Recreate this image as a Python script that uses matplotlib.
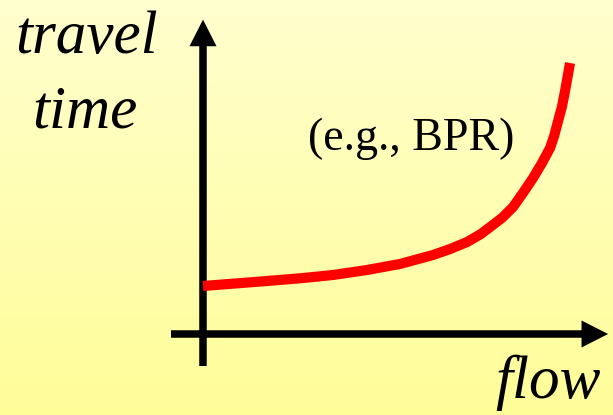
import numpy as np
import matplotlib.pyplot as plt

# BPR-style link performance curve
# flow in units of capacity, travel time in units of free-flow time
flow = [0.0, 0.173, 0.262, 0.351, 0.443, 0.532, 0.622, 0.668, 0.714,
        0.751, 0.776, 0.808, 0.838, 0.865, 0.892, 0.916, 0.938, 0.949,
        0.959, 0.970, 0.978, 0.992]
travel_time = [1.0, 1.104, 1.16, 1.229, 1.333, 1.458, 1.646, 1.771,
               1.917, 2.083, 2.229, 2.417, 2.646, 2.94, 3.25, 3.56,
               3.875, 4.125, 4.417, 4.73, 5.042, 5.646]

x_label = "flow"
y_label = ["travel", "time"]
curve_note = "(e.g., BPR)"

# view window (data units) so the origin sits where the sketch puts it
X_MIN, X_MAX = -0.5486, 1.1081
Y_MIN, Y_MAX = -1.6875, 6.9583

W, H = 613, 415
fig = plt.figure(figsize=(W / 100, H / 100), dpi=100)
ax = fig.add_axes([0, 0, 1, 1])
ax.set_xlim(X_MIN, X_MAX)
ax.set_ylim(Y_MIN, Y_MAX)
ax.axis("off")

# pale yellow vertical gradient background
top = np.array([255, 255, 206]) / 255
bottom = np.array([255, 253, 152]) / 255
t = np.linspace(0, 1, 256)[:, None]
grad = top * (1 - t) + bottom * t
ax.imshow(grad[:, None, :], extent=[X_MIN, X_MAX, Y_MIN, Y_MAX],
          aspect="auto", origin="upper", zorder=0)

# axes drawn as thick arrows
arrow = dict(arrowstyle="-|>,head_length=0.75,head_width=0.38",
             mutation_scale=14, lw=5.4, color="black",
             shrinkA=0, shrinkB=0, joinstyle="miter", capstyle="butt")
ax.annotate("", xy=(0, 6.55), xytext=(0, -0.667), arrowprops=arrow, zorder=2)
ax.annotate("", xy=(1.095, 0), xytext=(-0.0865, 0), arrowprops=arrow, zorder=2)

ax.plot(flow, travel_time, color="red", lw=7.3, solid_capstyle="butt",
        solid_joinstyle="round", zorder=3)

serif = "Liberation Serif"
ax.text(87 / W, 1 - 53 / H, y_label[0], transform=ax.transAxes,
        ha="center", va="baseline", fontsize=44, style="italic",
        family=serif)
ax.text(85 / W, 1 - 128 / H, y_label[1], transform=ax.transAxes,
        ha="center", va="baseline", fontsize=44, style="italic",
        family=serif)
ax.text(548 / W, 1 - 398 / H, x_label, transform=ax.transAxes,
        ha="center", va="baseline", fontsize=44, style="italic",
        family=serif)
ax.text(411 / W, 1 - 150 / H, curve_note, transform=ax.transAxes,
        ha="center", va="baseline", fontsize=33, family=serif)

fig.savefig("out.png", dpi=100)
